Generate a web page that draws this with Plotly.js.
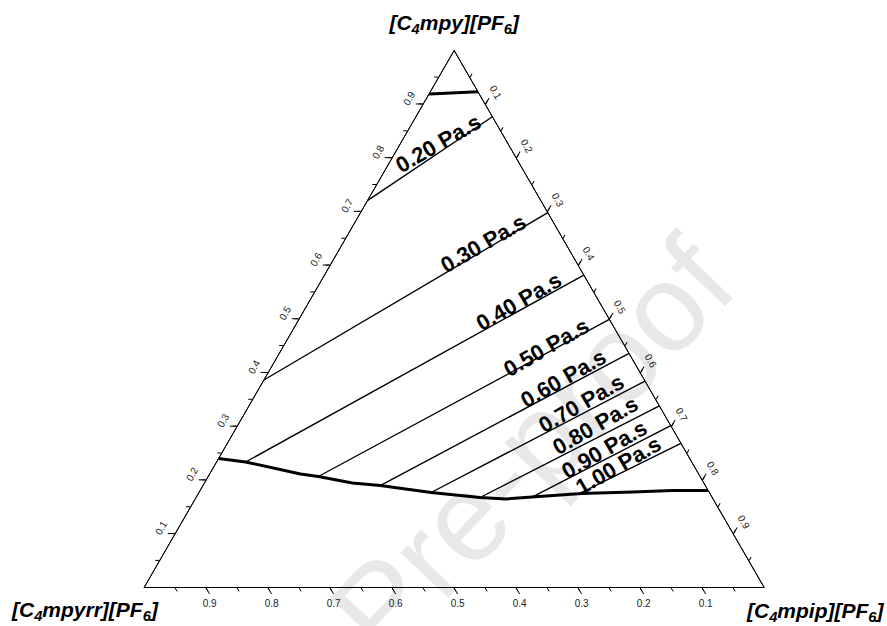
<!DOCTYPE html>
<html>
<head>
<meta charset="utf-8">
<script src="https://cdn.plot.ly/plotly-3.0.1.min.js"></script>
<style>
  html, body { margin: 0; padding: 0; background: #ffffff; }
  #wrap { position: relative; width: 887px; height: 626px; overflow: hidden; }
  #wm { position: absolute; left: 532px; top: 447px; transform: translate(-50%, -50%) rotate(-46.5deg);
        font-family: Arial, "Liberation Sans", sans-serif; font-size: 124px; line-height: 1; color: #e8e8e8;
        white-space: nowrap; z-index: 0; pointer-events: none; }
  #chart { position: absolute; left: 0; top: 0; width: 887px; height: 626px; z-index: 1; }
</style>
</head>
<body>
<div id="wrap">
  <div id="wm">Pre-proof</div>
  <div id="chart"></div>
</div>
<script>
// Component names (a = top, b = bottom-left, c = bottom-right)
const compA = '[C<sub>4</sub>mpy][PF<sub>6</sub>]';
const compB = '[C<sub>4</sub>mpyrr][PF<sub>6</sub>]';
const compC = '[C<sub>4</sub>mpip][PF<sub>6</sub>]';

// Ticks: labelled major ticks and unlabelled minor ticks
const majorTickVals = [0.1, 0.2, 0.3, 0.4, 0.5, 0.6, 0.7, 0.8, 0.9];
const majorTickText = ['0.1', '0.2', '0.3', '0.4', '0.5', '0.6', '0.7', '0.8', '0.9'];
const minorTickVals = [0.05, 0.1, 0.15, 0.2, 0.25, 0.3, 0.35, 0.4, 0.45, 0.5, 0.55, 0.6, 0.65, 0.7, 0.75, 0.8, 0.85, 0.9, 0.95];

// Iso-viscosity lines (start point, end point on the right edge)
const isoLabels = ['0.20 Pa.s', '0.30 Pa.s', '0.40 Pa.s', '0.50 Pa.s', '0.60 Pa.s', '0.70 Pa.s', '0.80 Pa.s', '0.90 Pa.s', '1.00 Pa.s'];
const isoStartA = [0.7203, 0.3864, 0.2337, 0.2067, 0.1899, 0.1769, 0.1676, 0.1680, 0.1754];
const isoStartB = [0.2797, 0.6136, 0.7195, 0.6156, 0.5243, 0.4487, 0.3746, 0.2912, 0.2098];
const isoStartC = [0.0000, 0.0000, 0.0468, 0.1777, 0.2858, 0.3744, 0.4578, 0.5408, 0.6148];
const isoEndA   = [0.8767, 0.6980, 0.5819, 0.4994, 0.4361, 0.3845, 0.3380, 0.3013, 0.2685];
const isoEndB   = [0, 0, 0, 0, 0, 0, 0, 0, 0];
const isoEndC   = [0.1233, 0.3020, 0.4181, 0.5006, 0.5639, 0.6155, 0.6620, 0.6987, 0.7315];

// Lower boundary curve (thick)
const boundA = [0.2402, 0.2337, 0.2114, 0.2067, 0.1946, 0.1899, 0.1769, 0.1676, 0.1648, 0.1685, 0.1750, 0.1778, 0.1806, 0.1806];
const boundB = [0.7598, 0.7195, 0.6422, 0.6156, 0.5670, 0.5243, 0.4487, 0.3746, 0.3342, 0.2905, 0.2068, 0.1234, 0.0576, 0.0000];
const boundC = [0.0000, 0.0468, 0.1464, 0.1777, 0.2384, 0.2858, 0.3744, 0.4578, 0.5010, 0.5410, 0.6182, 0.6988, 0.7618, 0.8194];

// Upper boundary line near the top vertex (thick)
const topA = [0.9190, 0.9233];
const topB = [0.0810, 0.0000];
const topC = [0.0000, 0.0767];

const W = 887, H = 626;
const FONT = 'Arial, Liberation Sans, sans-serif';
// Label placement (pixel centres, converted to paper fractions)
const labelPx = [[438, 143], [483, 243], [519, 302], [546, 347], [563, 378], [581, 403], [595, 425], [604, 449], [618, 465]];

const traces = [];
for (let i = 0; i < isoLabels.length; i++) {
  traces.push({
    type: 'scatterternary', mode: 'lines', name: isoLabels[i],
    a: [isoStartA[i], isoEndA[i]], b: [isoStartB[i], isoEndB[i]], c: [isoStartC[i], isoEndC[i]],
    line: { color: '#000000', width: 1.4 }, hoverinfo: 'name'
  });
}
traces.push({ type: 'scatterternary', mode: 'lines', name: 'boundary',
  a: boundA, b: boundB, c: boundC, line: { color: '#000000', width: 3 }, hoverinfo: 'skip' });
// the top boundary line lives on the overlay subplot that carries the minor ticks
traces.push({ type: 'scatterternary', subplot: 'ternary2', mode: 'lines', name: 'top boundary',
  a: topA, b: topB, c: topC, line: { color: '#000000', width: 3 }, hoverinfo: 'skip' });

function majorAxis(angle) {
  return {
    title: { text: '' },
    tickmode: 'array', tickvals: majorTickVals, ticktext: majorTickText,
    ticks: 'outside', ticklen: 7, tickwidth: 1, tickcolor: '#000',
    tickangle: angle,
    tickfont: { family: FONT, size: 10, color: '#222' },
    showgrid: false, showline: true, linecolor: '#000', linewidth: 1, min: 0
  };
}
function minorAxis() {
  return {
    title: { text: '' },
    tickmode: 'array', tickvals: minorTickVals,
    ticks: 'outside', ticklen: 4, tickwidth: 1, tickcolor: '#000',
    showticklabels: false,
    showgrid: false, showline: true, linecolor: '#000', linewidth: 1, min: 0
  };
}

const domain = { x: [143.3 / W, 765 / W], y: [(H - 587.5) / H, (H - 50.5) / H] };
const aMajor = majorAxis(-60);
aMajor.title = { text: '<b><i>' + compA + '</i></b>', font: { family: FONT, size: 21, color: '#000' } };

const annotations = isoLabels.map((t, i) => ({
  text: '<b>' + t + '</b>', xref: 'paper', yref: 'paper',
  x: labelPx[i][0] / W, y: 1 - labelPx[i][1] / H,
  xanchor: 'center', yanchor: 'middle', showarrow: false, textangle: -30,
  font: { family: FONT, size: 22, color: '#000' }
}));
annotations.push({
  text: '<b><i>' + compB + '</i></b>', xref: 'paper', yref: 'paper',
  x: 85 / W, y: 1 - 611 / H, xanchor: 'center', yanchor: 'middle', showarrow: false,
  font: { family: FONT, size: 21, color: '#000' }
});
annotations.push({
  text: '<b><i>' + compC + '</i></b>', xref: 'paper', yref: 'paper',
  x: 815 / W, y: 1 - 612 / H, xanchor: 'center', yanchor: 'middle', showarrow: false,
  font: { family: FONT, size: 21, color: '#000' }
});

const layout = {
  width: W, height: H,
  margin: { l: 0, r: 0, t: 0, b: 0 },
  paper_bgcolor: 'rgba(0,0,0,0)', plot_bgcolor: 'rgba(0,0,0,0)',
  showlegend: false,
  ternary: {
    sum: 1, domain: domain, bgcolor: 'rgba(0,0,0,0)',
    aaxis: aMajor,
    baxis: majorAxis(0),
    caxis: majorAxis(60)
  },
  ternary2: {
    sum: 1, domain: domain, bgcolor: 'rgba(0,0,0,0)',
    aaxis: minorAxis(), baxis: minorAxis(), caxis: minorAxis()
  },
  annotations: annotations
};

Plotly.newPlot('chart', traces, layout, { displayModeBar: false, staticPlot: true });
</script>
</body>
</html>
